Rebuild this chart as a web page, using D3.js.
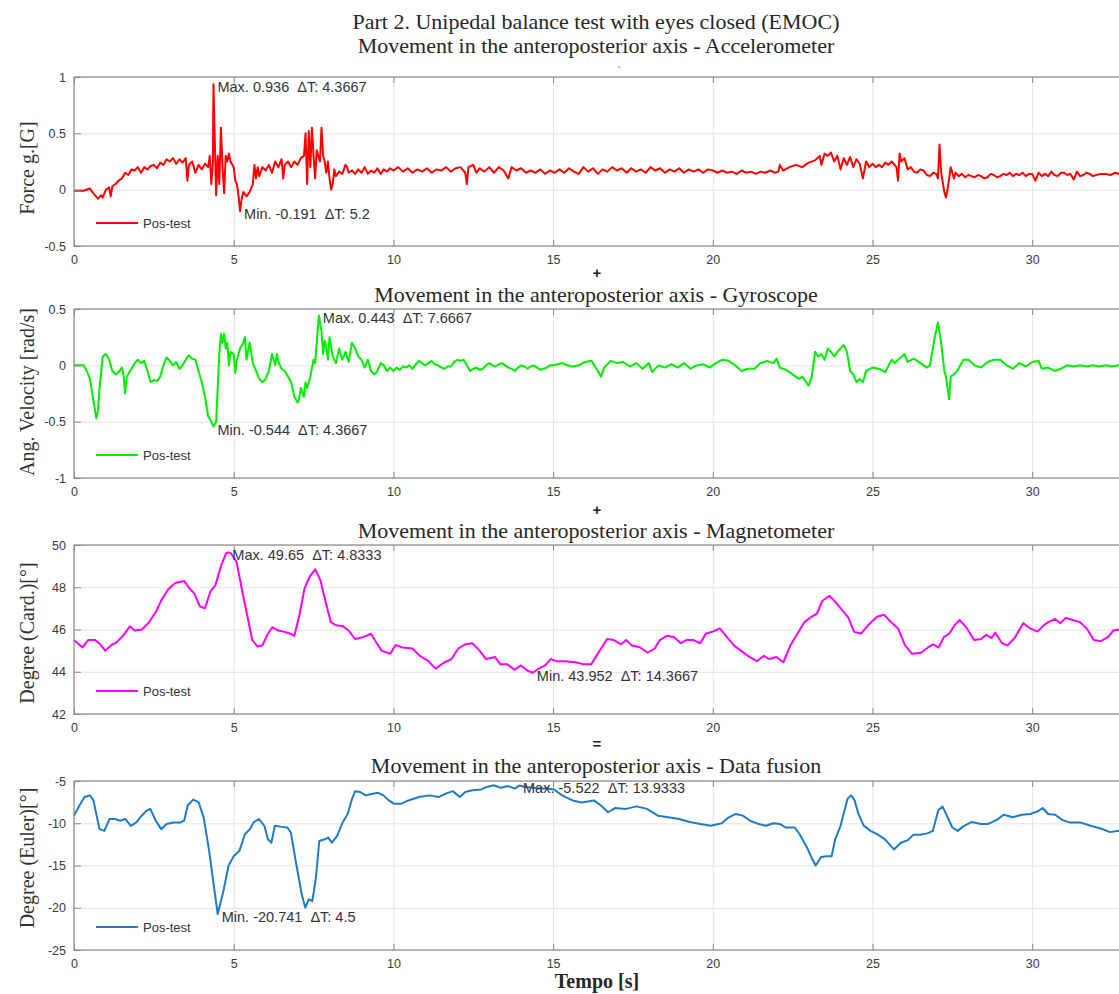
<!DOCTYPE html>
<html>
<head>
<meta charset="utf-8">
<script src="https://cdn.jsdelivr.net/npm/d3@7"></script>
<style>
	body { margin: 0; background: #fff; }
	#chart { width: 1119px; height: 994px; overflow: hidden; }
	.tick text { font-family: "Liberation Sans", Arial, sans-serif; font-size: 12.5px; fill: #3a3a3a; }
	.grid line { stroke: #e4e4e4; stroke-width: 1; }
	.ticks line { stroke: #8a8a8a; }
	.title { font-family: "Liberation Serif", "Times New Roman", serif; font-size: 22px; fill: #262626; }
	.ylabel { font-family: "Liberation Serif", "Times New Roman", serif; font-size: 20px; fill: #333; }
	.note { font-family: "Liberation Sans", Arial, sans-serif; font-size: 14.5px; fill: #333; white-space: pre; }
	.legend { font-family: "Liberation Sans", Arial, sans-serif; font-size: 13px; fill: #333; }
	.sym { font-family: "Liberation Sans", Arial, sans-serif; font-size: 15px; font-weight: bold; fill: #222; }
</style>
</head>
<body>
<div id="chart"></div>
<script>

// ------------------------ data ------------------------------

var xTicks = [0, 5, 10, 15, 20, 25, 30];
var xDomain = [0, 33];

var accelTicks = [-0.5, 0, 0.5, 1];
var gyroTicks = [-1, -0.5, 0, 0.5];
var magTicks = [42, 44, 46, 48, 50];
var fusionTicks = [-25, -20, -15, -10, -5];

// [time (s), value]
var accelData = [
	[0,-0.01],[0.3,-0.01],[0.5,0.01],[0.6,-0.03],[0.75,-0.08],[0.85,-0.05],[0.9,-0.07],[1.0,0.0],[1.1,0.02],[1.15,-0.06],
	[1.2,0.03],[1.3,0.05],[1.4,0.08],[1.5,0.1],[1.6,0.15],[1.7,0.13],[1.8,0.18],[1.9,0.17],[2.0,0.2],[2.1,0.15],
	[2.2,0.2],[2.3,0.18],[2.4,0.21],[2.5,0.22],[2.6,0.19],[2.7,0.24],[2.8,0.22],[2.9,0.27],[3.0,0.25],[3.1,0.28],
	[3.2,0.23],[3.3,0.27],[3.4,0.24],[3.5,0.28],[3.55,0.08],[3.6,0.22],[3.7,0.25],[3.8,0.15],[3.9,0.22],[4.0,0.18],
	[4.1,0.23],[4.2,0.2],[4.25,0.3],[4.3,0.05],[4.35,0.25],[4.3667,0.936],[4.42,0.3],[4.45,-0.05],[4.5,0.3],[4.55,0.05],
	[4.6,0.55],[4.65,0.2],[4.7,-0.03],[4.75,0.3],[4.8,0.25],[4.85,0.32],[4.9,0.25],[5.0,0.2],[5.05,0.08],[5.1,0.05],
	[5.15,-0.05],[5.2,-0.191],[5.25,-0.08],[5.3,-0.02],[5.4,-0.06],[5.5,-0.02],[5.6,0.05],[5.65,0.22],[5.7,0.1],[5.75,0.2],
	[5.8,0.12],[5.9,0.2],[6.0,0.17],[6.1,0.22],[6.2,0.15],[6.3,0.25],[6.4,0.2],[6.5,0.27],[6.55,0.1],[6.6,0.22],
	[6.7,0.25],[6.8,0.2],[6.9,0.25],[7.0,0.22],[7.1,0.28],[7.2,0.3],[7.25,0.5],[7.3,0.05],[7.35,0.52],[7.4,0.2],
	[7.45,0.55],[7.5,0.3],[7.55,0.1],[7.6,0.35],[7.7,0.25],[7.75,0.55],[7.8,0.3],[7.85,0.25],[7.9,0.15],[7.95,0.25],
	[8.0,0.1],[8.05,0.0],[8.1,0.05],[8.15,0.18],[8.2,0.12],[8.3,0.16],[8.4,0.14],[8.5,0.22],[8.55,0.2],[8.6,0.15],
	[8.7,0.17],[8.8,0.14],[8.9,0.18],[9.0,0.15],[9.1,0.2],[9.2,0.14],[9.3,0.17],[9.4,0.15],[9.5,0.19],[9.6,0.14],
	[9.7,0.18],[9.8,0.16],[9.9,0.19],[10.0,0.17],[10.15,0.2],[10.3,0.16],[10.45,0.19],[10.6,0.15],[10.75,0.18],[10.9,0.16],
	[11.05,0.19],[11.2,0.15],[11.35,0.18],[11.5,0.17],[11.65,0.2],[11.8,0.16],[11.95,0.19],[12.1,0.2],[12.25,0.15],[12.3,0.05],
	[12.35,0.2],[12.5,0.22],[12.6,0.15],[12.7,0.19],[12.85,0.16],[13.0,0.2],[13.15,0.15],[13.3,0.2],[13.45,0.17],[13.6,0.1],
	[13.7,0.2],[13.85,0.17],[14.0,0.19],[14.15,0.15],[14.3,0.17],[14.45,0.15],[14.6,0.18],[14.75,0.14],[14.9,0.17],[15.05,0.15],
	[15.2,0.18],[15.35,0.15],[15.5,0.19],[15.65,0.16],[15.8,0.14],[15.95,0.2],[16.1,0.16],[16.25,0.19],[16.4,0.14],[16.55,0.18],
	[16.7,0.16],[16.85,0.2],[17.0,0.17],[17.15,0.19],[17.3,0.15],[17.45,0.19],[17.6,0.16],[17.75,0.18],[17.9,0.15],[18.05,0.2],
	[18.2,0.17],[18.35,0.19],[18.5,0.15],[18.65,0.18],[18.8,0.16],[18.95,0.19],[19.1,0.15],[19.25,0.18],[19.4,0.16],[19.55,0.18],
	[19.7,0.15],[19.85,0.18],[20.0,0.17],[20.15,0.15],[20.3,0.17],[20.45,0.15],[20.6,0.16],[20.75,0.14],[20.9,0.17],[21.05,0.15],
	[21.2,0.16],[21.35,0.14],[21.5,0.16],[21.65,0.15],[21.8,0.17],[21.95,0.15],[22.05,0.16],[22.1,0.22],[22.2,0.17],[22.4,0.2],
	[22.6,0.22],[22.8,0.2],[23.0,0.24],[23.2,0.26],[23.35,0.3],[23.4,0.22],[23.5,0.32],[23.6,0.3],[23.7,0.33],[23.8,0.25],
	[23.9,0.3],[24.0,0.18],[24.1,0.28],[24.2,0.22],[24.3,0.29],[24.4,0.2],[24.5,0.27],[24.6,0.23],[24.7,0.1],[24.8,0.25],
	[24.9,0.2],[25.0,0.23],[25.1,0.2],[25.2,0.22],[25.3,0.2],[25.4,0.24],[25.5,0.22],[25.6,0.25],[25.75,0.2],[25.8,0.08],
	[25.85,0.32],[25.9,0.25],[26.0,0.28],[26.1,0.18],[26.2,0.2],[26.3,0.16],[26.4,0.15],[26.5,0.18],[26.6,0.17],[26.7,0.13],
	[26.8,0.12],[26.9,0.15],[27.0,0.14],[27.05,0.1],[27.1,0.4],[27.15,0.15],[27.25,-0.02],[27.3,-0.07],[27.35,0.0],[27.45,0.2],
	[27.5,0.15],[27.55,0.1],[27.6,0.15],[27.7,0.12],[27.8,0.14],[27.9,0.11],[28.0,0.13],[28.1,0.12],[28.2,0.11],[28.3,0.13],
	[28.4,0.12],[28.5,0.1],[28.6,0.11],[28.7,0.14],[28.8,0.13],[28.9,0.11],[29.0,0.12],[29.1,0.14],[29.2,0.13],[29.3,0.15],
	[29.4,0.12],[29.5,0.14],[29.6,0.13],[29.7,0.15],[29.8,0.12],[29.9,0.14],[30.0,0.14],[30.1,0.08],[30.2,0.15],[30.3,0.12],
	[30.4,0.14],[30.5,0.12],[30.6,0.16],[30.7,0.13],[30.8,0.12],[30.9,0.15],[31.0,0.15],[31.1,0.13],[31.2,0.14],[31.3,0.09],
	[31.4,0.16],[31.5,0.12],[31.6,0.13],[31.7,0.15],[31.8,0.14],[31.9,0.12],[32.0,0.13],[32.15,0.14],[32.3,0.14],[32.45,0.13],
	[32.6,0.15],[32.7,0.14],[32.8,0.17],[33.0,0.18]
];

var gyroData = [
	[0,0],[0.3,0.0],[0.4,-0.05],[0.5,-0.12],[0.6,-0.3],[0.7,-0.47],[0.75,-0.4],[0.8,-0.2],[0.9,0.08],[1.0,0.1],
	[1.1,0.05],[1.2,-0.05],[1.3,-0.08],[1.4,-0.06],[1.5,-0.02],[1.55,-0.08],[1.6,-0.25],[1.65,-0.1],[1.8,-0.03],[1.9,0.02],
	[2.0,0.05],[2.1,0.02],[2.2,0.04],[2.3,-0.05],[2.4,-0.15],[2.5,-0.13],[2.6,-0.14],[2.7,-0.1],[2.8,0.0],[2.9,0.07],
	[3.0,0.04],[3.1,0.0],[3.2,0.03],[3.3,-0.03],[3.4,0.0],[3.5,0.05],[3.6,0.09],[3.7,0.06],[3.8,0.05],[3.9,-0.05],
	[4.0,-0.15],[4.1,-0.28],[4.2,-0.45],[4.3,-0.5],[4.3667,-0.544],[4.45,-0.5],[4.55,0.1],[4.6,0.28],[4.65,0.2],[4.7,0.28],
	[4.75,0.15],[4.8,0.2],[4.85,0.0],[4.9,0.12],[5.0,0.1],[5.05,-0.07],[5.1,0.05],[5.2,0.15],[5.3,0.2],[5.35,0.25],
	[5.4,0.05],[5.5,0.2],[5.6,0.02],[5.7,-0.05],[5.8,-0.12],[5.9,-0.15],[6.0,-0.12],[6.1,-0.05],[6.2,0.1],[6.3,0.0],
	[6.35,0.1],[6.4,0.03],[6.5,-0.03],[6.6,-0.05],[6.7,-0.1],[6.8,-0.15],[6.9,-0.28],[7.0,-0.33],[7.05,-0.3],[7.1,-0.2],
	[7.2,-0.28],[7.25,-0.15],[7.3,-0.2],[7.4,-0.1],[7.5,0.05],[7.55,0.02],[7.6,0.2],[7.6667,0.443],[7.75,0.3],[7.8,0.1],
	[7.85,0.22],[7.9,0.15],[7.95,0.05],[8.0,0.25],[8.1,0.08],[8.2,0.02],[8.3,0.15],[8.4,0.05],[8.5,0.12],[8.6,0.03],
	[8.7,0.2],[8.8,0.15],[8.9,0.08],[9.0,0.05],[9.1,-0.02],[9.2,0.05],[9.3,-0.05],[9.4,-0.08],[9.5,-0.05],[9.6,0.02],
	[9.7,0.0],[9.8,-0.05],[9.9,-0.02],[10.0,-0.05],[10.1,-0.02],[10.2,-0.04],[10.3,-0.01],[10.4,-0.02],[10.5,0.0],[10.6,-0.03],
	[10.7,0.01],[10.8,0.04],[10.9,0.02],[11.0,0.0],[11.1,0.02],[11.2,0.04],[11.3,0.01],[11.4,0.0],[11.5,-0.02],[11.6,-0.03],
	[11.7,-0.01],[11.8,-0.01],[11.9,0.03],[12.0,0.05],[12.1,0.04],[12.2,0.05],[12.3,0.0],[12.4,-0.05],[12.5,-0.03],[12.6,-0.02],
	[12.7,-0.04],[12.8,-0.03],[12.9,0.0],[13.0,0.02],[13.1,0.0],[13.2,-0.01],[13.3,0.01],[13.4,0.02],[13.5,0.0],[13.6,-0.02],
	[13.7,-0.03],[13.8,-0.05],[13.9,-0.02],[14.0,0.0],[14.1,-0.01],[14.2,-0.03],[14.3,-0.01],[14.4,0.0],[14.5,-0.02],[14.6,-0.04],
	[14.7,-0.03],[14.8,-0.02],[14.9,0.0],[15.0,0.0],[15.15,0.01],[15.3,0.02],[15.45,0.0],[15.6,-0.01],[15.8,0.0],[16.0,0.03],
	[16.2,0.04],[16.4,-0.05],[16.5,-0.1],[16.6,-0.02],[16.8,0.04],[17.0,0.02],[17.2,0.03],[17.4,-0.01],[17.6,0.02],[17.8,-0.03],
	[18.0,0.02],[18.1,-0.06],[18.3,0.0],[18.5,-0.02],[18.7,0.01],[18.9,-0.02],[19.1,0.02],[19.3,-0.03],[19.5,0.0],[19.7,0.01],
	[19.9,-0.02],[20.1,0.02],[20.3,0.05],[20.5,0.04],[20.7,0.0],[20.9,-0.05],[21.1,-0.03],[21.3,-0.03],[21.5,0.02],[21.7,0.04],
	[21.9,0.02],[22.0,0.06],[22.1,-0.02],[22.3,-0.04],[22.5,-0.08],[22.7,-0.12],[22.8,-0.1],[23.0,-0.18],[23.1,-0.1],[23.2,0.12],
	[23.3,0.08],[23.4,0.1],[23.5,0.05],[23.6,0.15],[23.7,0.12],[23.8,0.08],[23.9,0.12],[24.0,0.15],[24.1,0.18],[24.2,0.12],
	[24.3,-0.05],[24.4,-0.08],[24.5,-0.15],[24.6,-0.12],[24.7,-0.15],[24.8,-0.05],[25.0,-0.02],[25.2,-0.03],[25.4,-0.06],[25.6,0.05],
	[25.7,0.02],[25.8,0.05],[26.0,0.1],[26.1,0.03],[26.3,0.06],[26.5,0.02],[26.7,-0.02],[26.8,0.0],[26.95,0.25],[27.05,0.38],
	[27.15,0.2],[27.25,-0.05],[27.3,-0.1],[27.4,-0.3],[27.45,-0.1],[27.55,-0.08],[27.65,-0.05],[27.75,0.0],[27.85,0.05],[28.0,0.05],
	[28.2,0.0],[28.4,-0.02],[28.6,0.03],[28.8,0.05],[29.0,0.05],[29.2,0.0],[29.4,-0.03],[29.6,0.02],[29.8,-0.01],[30.0,0.03],
	[30.2,0.04],[30.3,-0.03],[30.5,-0.02],[30.7,-0.05],[30.9,-0.03],[31.1,0.0],[31.3,-0.01],[31.5,0.0],[31.7,-0.01],[31.9,0.0],
	[32.1,-0.01],[32.3,0.0],[32.5,-0.01],[32.7,0.0],[32.75,0.01],[32.9,0.1],[33.0,0.15]
];

var magData = [
	[0,45.5],[0.27,45.15],[0.44,45.5],[0.66,45.5],[0.82,45.3],[0.98,45.0],[1.2,45.3],[1.3,45.35],[1.53,45.7],[1.75,46.15],
	[1.9,45.95],[2.13,46.0],[2.35,46.35],[2.57,46.85],[2.74,47.4],[2.95,47.9],[3.17,48.2],[3.45,48.3],[3.61,47.95],[3.77,47.7],
	[3.94,47.1],[4.1,47.0],[4.27,47.8],[4.43,48.1],[4.6,49.0],[4.76,49.6],[4.8333,49.65],[4.92,49.6],[5.09,49.2],[5.25,47.95],
	[5.42,46.7],[5.58,45.5],[5.74,45.2],[5.9,45.25],[6.07,45.8],[6.21,46.1],[6.4,45.95],[6.56,45.9],[6.78,45.8],[6.9,45.7],
	[7.06,46.7],[7.22,47.95],[7.38,48.5],[7.55,48.85],[7.71,48.35],[7.88,47.3],[8.04,46.35],[8.2,46.2],[8.42,46.15],[8.6,45.95],
	[8.8,45.55],[9.08,45.65],[9.3,45.8],[9.46,45.4],[9.63,45.0],[9.9,44.85],[10.07,45.27],[10.28,45.15],[10.6,45.1],[10.83,44.75],
	[11.1,44.5],[11.32,44.15],[11.6,44.45],[11.82,44.6],[12.03,45.1],[12.25,45.3],[12.47,45.35],[12.7,45.0],[12.9,44.6],[13.18,44.7],
	[13.35,44.35],[13.57,44.35],[13.79,44.1],[14.0,44.3],[14.2,44.05],[14.3667,43.952],[14.55,44.15],[14.75,44.3],[14.93,44.6],[15.1,44.5],
	[15.36,44.5],[15.7,44.45],[15.97,44.35],[16.19,44.35],[16.46,45.0],[16.69,45.55],[16.9,45.5],[17.13,45.3],[17.29,45.5],[17.46,45.25],
	[17.73,45.15],[17.96,44.9],[18.18,45.1],[18.34,45.5],[18.56,45.7],[18.78,45.65],[19.0,45.35],[19.17,45.5],[19.39,45.5],[19.61,45.35],
	[19.78,45.8],[20.0,45.9],[20.22,46.05],[20.44,45.65],[20.66,45.25],[20.88,45.0],[21.1,44.75],[21.38,44.5],[21.6,44.75],[21.77,44.6],
	[21.99,44.7],[22.21,44.45],[22.43,45.25],[22.65,45.8],[22.87,46.35],[23.09,46.6],[23.26,46.75],[23.43,47.35],[23.65,47.6],[23.81,47.35],
	[24.03,46.95],[24.25,46.55],[24.42,45.9],[24.64,45.8],[24.86,46.2],[25.14,46.6],[25.36,46.7],[25.58,46.35],[25.8,46.05],[26.02,45.25],
	[26.24,44.85],[26.52,44.9],[26.74,45.15],[26.9,45.3],[27.07,45.15],[27.24,45.65],[27.4,45.8],[27.57,46.2],[27.73,46.45],[27.96,46.05],
	[28.18,45.5],[28.4,45.55],[28.56,45.75],[28.73,45.6],[28.84,45.85],[29.06,45.35],[29.23,45.25],[29.45,45.6],[29.72,46.3],[29.94,46.05],
	[30.17,45.9],[30.33,46.15],[30.5,46.35],[30.72,46.5],[30.88,46.3],[31.05,46.55],[31.27,46.45],[31.49,46.35],[31.71,46.05],[31.93,45.5],
	[32.15,45.45],[32.38,45.65],[32.54,45.95],[32.7,46.0],[33.0,45.9]
];

var fusionData = [
	[0,-9.1],[0.17,-7.9],[0.33,-6.9],[0.5,-6.7],[0.61,-7.3],[0.72,-9.3],[0.8,-10.7],[0.95,-10.9],[1.11,-9.5],[1.28,-9.5],
	[1.45,-9.7],[1.61,-9.5],[1.78,-10.3],[1.95,-9.9],[2.12,-9.1],[2.28,-8.5],[2.39,-8.3],[2.56,-9.7],[2.73,-10.7],[2.9,-10.1],
	[3.12,-9.9],[3.34,-9.9],[3.45,-9.7],[3.56,-7.9],[3.73,-7.2],[3.9,-7.5],[4.06,-9.3],[4.23,-13.25],[4.4,-18.0],[4.5,-20.741],
	[4.68,-18.0],[4.84,-15.0],[5.01,-13.85],[5.18,-13.25],[5.35,-11.3],[5.51,-10.7],[5.62,-9.9],[5.79,-9.5],[5.96,-10.3],[6.07,-11.9],
	[6.18,-12.3],[6.29,-10.3],[6.46,-10.4],[6.68,-10.5],[6.79,-11.1],[6.96,-14.85],[7.13,-18.4],[7.24,-20.0],[7.35,-19.0],[7.46,-19.2],
	[7.57,-16.6],[7.68,-12.1],[7.85,-11.9],[7.96,-11.7],[8.07,-12.3],[8.24,-11.5],[8.41,-9.9],[8.57,-8.9],[8.69,-7.3],[8.8,-6.2],
	[8.96,-6.3],[9.13,-6.7],[9.35,-6.5],[9.52,-6.4],[9.69,-6.7],[9.86,-7.3],[10.02,-7.7],[10.24,-7.7],[10.47,-7.3],[10.8,-6.9],
	[11.14,-6.7],[11.41,-6.9],[11.64,-6.5],[11.86,-6.2],[12.08,-6.9],[12.25,-6.3],[12.47,-6.1],[12.75,-6.0],[12.92,-5.7],[13.14,-5.5],
	[13.36,-5.8],[13.59,-5.6],[13.81,-5.9],[13.9333,-5.522],[14.14,-5.7],[14.37,-5.8],[14.59,-5.9],[14.81,-5.9],[15.03,-6.0],[15.28,-6.7],
	[15.61,-7.3],[15.89,-7.55],[16.28,-7.3],[16.5,-7.9],[16.72,-8.7],[16.94,-8.2],[17.28,-8.3],[17.61,-8.0],[17.94,-8.3],[18.28,-9.1],
	[18.61,-9.3],[18.94,-9.5],[19.28,-9.85],[19.61,-10.1],[19.94,-10.3],[20.28,-10.0],[20.5,-9.3],[20.72,-8.9],[20.94,-9.1],[21.17,-9.7],
	[21.44,-10.1],[21.67,-10.3],[21.89,-10.0],[22.11,-10.1],[22.28,-10.5],[22.56,-10.5],[22.72,-11.3],[22.94,-12.8],[23.11,-14.2],[23.22,-15.0],
	[23.39,-14.0],[23.56,-13.9],[23.72,-13.9],[23.83,-11.95],[24.0,-10.3],[24.11,-8.7],[24.22,-7.1],[24.33,-6.7],[24.44,-7.3],[24.56,-8.9],
	[24.72,-10.25],[24.94,-10.9],[25.17,-11.35],[25.39,-11.9],[25.67,-13.1],[25.89,-12.3],[26.11,-12.0],[26.28,-11.35],[26.5,-11.35],[26.72,-11.2],
	[26.89,-10.9],[27.06,-8.5],[27.19,-8.0],[27.33,-9.1],[27.5,-10.5],[27.67,-10.9],[27.83,-10.4],[28.11,-9.85],[28.39,-10.1],[28.61,-10.1],
	[28.89,-9.6],[29.11,-9.0],[29.39,-9.3],[29.67,-9.0],[29.94,-8.9],[30.17,-8.6],[30.33,-8.2],[30.5,-8.9],[30.72,-9.0],[30.94,-9.6],
	[31.17,-9.9],[31.5,-9.9],[31.83,-10.3],[32.17,-10.65],[32.44,-11.05],[32.7,-10.9],[33.0,-11.2]
];

// data tips: [label, time, value]
var accelTips = [["Max.", 4.3667, 0.936], ["Min.", 5.2, -0.191]];
var gyroTips = [["Max.", 7.6667, 0.443], ["Min.", 4.3667, -0.544]];
var magTips = [["Max.", 4.8333, 49.65], ["Min.", 14.3667, 43.952]];
var fusionTips = [["Max.", 13.9333, -5.522], ["Min.", 4.5, -20.741]];

var mainTitle = "Part 2. Unipedal balance test with eyes closed (EMOC)";
var panelTitles = [
	"Movement in the anteroposterior axis - Accelerometer",
	"Movement in the anteroposterior axis - Gyroscope",
	"Movement in the anteroposterior axis - Magnetometer",
	"Movement in the anteroposterior axis - Data fusion"
];
var yLabels = ["Force g.[G]", "Ang. Velocity [rad/s]", "Degree (Card.)[°]", "Degree (Euler)[°]"];
var joinSymbols = ["+", "+", "="];
var legendName = "Pos-test";
var xLabel = "Tempo [s]";


// ------------------------ layout ------------------------------

var plotLeft = 74, plotRight = 1128;

var panels = [
	{ data: accelData, ticks: accelTicks, tips: accelTips, colour: "#ff0000", top: 77,  bottom: 246, titleY: 53,  labelY: 168 },
	{ data: gyroData,  ticks: gyroTicks,  tips: gyroTips,  colour: "#00ee00", top: 309, bottom: 478, titleY: 302, labelY: 392 },
	{ data: magData,   ticks: magTicks,   tips: magTips,   colour: "#ff00ff", top: 545, bottom: 714, titleY: 538, labelY: 633 },
	{ data: fusionData,ticks: fusionTicks,tips: fusionTips,colour: "#1f7bc6", top: 781, bottom: 950, titleY: 773, labelY: 858 }
];
var symbolY = [278, 515, 749];

var svg = d3.select("#chart").append("svg")
		.attr("width", 1119)
		.attr("height", 994)
		.attr("viewBox", "0 0 1119 994");

var fmt = function(d) { return String(d); };

var buildPanel = function(p, i) {

	var x = d3.scaleLinear().domain(xDomain).range([plotLeft, plotRight]);
	var y = d3.scaleLinear().domain([p.ticks[0], p.ticks[p.ticks.length - 1]]).range([p.bottom, p.top]);
	var h = p.bottom - p.top, w = plotRight - plotLeft;

	var g = svg.append("g");

	// grid lines
	var gx = g.append("g").attr("class", "grid")
			.attr("transform", "translate(0," + p.bottom + ")")
			.call(d3.axisBottom(x).tickValues(xTicks).tickSize(-h).tickFormat(""));
	gx.select(".domain").remove();
	var gy = g.append("g").attr("class", "grid")
			.attr("transform", "translate(" + plotLeft + ",0)")
			.call(d3.axisLeft(y).tickValues(p.ticks).tickSize(-w).tickFormat(""));
	gy.select(".domain").remove();

	// the signal
	var line = d3.line()
			.x(function(d) { return x(d[0]); })
			.y(function(d) { return y(d[1]); });
	g.append("path")
		.datum(p.data)
		.attr("fill", "none")
		.attr("stroke", p.colour)
		.attr("stroke-width", 2)
		.attr("stroke-linejoin", "round")
		.attr("d", line);

	// box
	g.append("rect")
		.attr("x", plotLeft).attr("y", p.top)
		.attr("width", w).attr("height", h)
		.attr("fill", "none").attr("stroke", "#8a8a8a").attr("stroke-width", 1.2);

	// inward ticks on all four sides
	var aB = g.append("g").attr("class", "ticks").attr("transform", "translate(0," + p.bottom + ")")
			.call(d3.axisBottom(x).tickValues(xTicks).tickSize(-6).tickPadding(9).tickFormat(fmt));
	var aT = g.append("g").attr("class", "ticks").attr("transform", "translate(0," + p.top + ")")
			.call(d3.axisTop(x).tickValues(xTicks).tickSize(-6).tickFormat(""));
	var aL = g.append("g").attr("class", "ticks").attr("transform", "translate(" + plotLeft + ",0)")
			.call(d3.axisLeft(y).tickValues(p.ticks).tickSize(-7).tickPadding(8).tickFormat(fmt));
	var aR = g.append("g").attr("class", "ticks").attr("transform", "translate(" + plotRight + ",0)")
			.call(d3.axisRight(y).tickValues(p.ticks).tickSize(-7).tickFormat(""));
	[aB, aT, aL, aR].forEach(function(a) { a.select(".domain").remove(); });

	// legend
	var ly = p.bottom - 23;
	g.append("line")
		.attr("x1", 96).attr("x2", 138).attr("y1", ly).attr("y2", ly)
		.attr("stroke", p.colour).attr("stroke-width", 2);
	g.append("text").attr("class", "legend")
		.attr("x", 143).attr("y", ly).attr("dy", "0.35em")
		.text(legendName);

	// data tips
	g.selectAll(".note")
		.data(p.tips)
		.enter().append("text")
			.attr("class", "note")
			.attr("x", function(d) { return x(d[1]) + 4; })
			.attr("y", function(d) { return y(d[2]) + 3; })
			.attr("dy", "0.35em")
			.text(function(d) { return d[0] + " " + d[2] + "  \u0394T: " + d[1]; });

	// titles
	g.append("text").attr("class", "title")
		.attr("x", 596).attr("y", p.titleY)
		.attr("text-anchor", "middle")
		.text(panelTitles[i]);

	g.append("text").attr("class", "ylabel")
		.attr("transform", "translate(27," + p.labelY + ") rotate(-90)")
		.attr("text-anchor", "middle")
		.attr("dy", "0.35em")
		.text(yLabels[i]);
};

panels.forEach(buildPanel);

svg.append("text").attr("class", "title")
	.attr("x", 596).attr("y", 29)
	.attr("text-anchor", "middle")
	.text(mainTitle);

svg.selectAll(".sym")
	.data(joinSymbols)
	.enter().append("text")
		.attr("class", "sym")
		.attr("x", 597)
		.attr("y", function(d, i) { return symbolY[i]; })
		.attr("text-anchor", "middle")
		.text(function(d) { return d; });

svg.append("text").attr("class", "sym")
	.attr("x", 618).attr("y", 73).style("font-size", "9px").style("font-weight", "normal")
	.text("`");

svg.append("text").attr("class", "title")
	.attr("x", 597).attr("y", 988)
	.attr("text-anchor", "middle")
	.style("font-weight", "bold")
	.style("font-size", "20px")
	.text(xLabel);

</script>
</body>
</html>
